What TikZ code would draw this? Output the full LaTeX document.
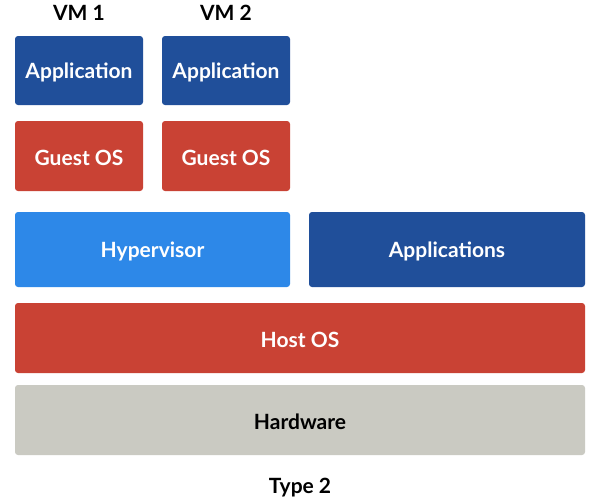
\documentclass[tikz,border=0pt]{standalone}
\usepackage{fontspec}
\setmainfont{Lato}
\definecolor{dblue}{HTML}{204F9A}
\definecolor{lblue}{HTML}{2D88E8}
\definecolor{cred}{HTML}{C94234}
\definecolor{cgrey}{HTML}{CACAC2}
\begin{document}
\begin{tikzpicture}[x=1pt,y=-1pt,
  blk/.style={rounded corners=3pt,draw=none,text=white,font=\bfseries\fontsize{21}{24}\selectfont},
  lbl/.style={font=\bfseries\fontsize{21}{24}\selectfont,text=black}]
\useasboundingbox (0,0) rectangle (600,501);
\fill[white] (0,0) rectangle (600,501);
\path[blk,fill=dblue] (15,36) rectangle (143,105) node[midway,yshift=-1.5pt] (app1) {Application};
\path[blk,fill=dblue] (162,36) rectangle (290,105) node[midway,yshift=-1.5pt] (app2) {Application};
\path[blk,fill=cred] (15,121) rectangle (143,191) node[midway,yshift=-1.5pt] (gos1) {Guest OS};
\path[blk,fill=cred] (162,121) rectangle (290,191) node[midway,yshift=-1.5pt] (gos2) {Guest OS};
\path[blk,fill=lblue] (15,212) rectangle (290,287) node[midway,yshift=-1.5pt] (hyp) {Hypervisor};
\path[blk,fill=dblue] (309,212) rectangle (585,287) node[midway,yshift=-1.5pt] (apps) {Applications};
\path[blk,fill=cred] (15,303) rectangle (585,373) node[midway,yshift=-1.5pt] (host) {Host OS};
\path[blk,fill=cgrey,text=black] (15,385) rectangle (585,455) node[midway,yshift=-1.5pt] (hw) {Hardware};
\node[lbl] (vm1) at (79,13) {VM 1};
\node[lbl] (vm2) at (226,13) {VM 2};
\node[lbl] (type) at (300,488) {Type 2};
\end{tikzpicture}
\end{document}
